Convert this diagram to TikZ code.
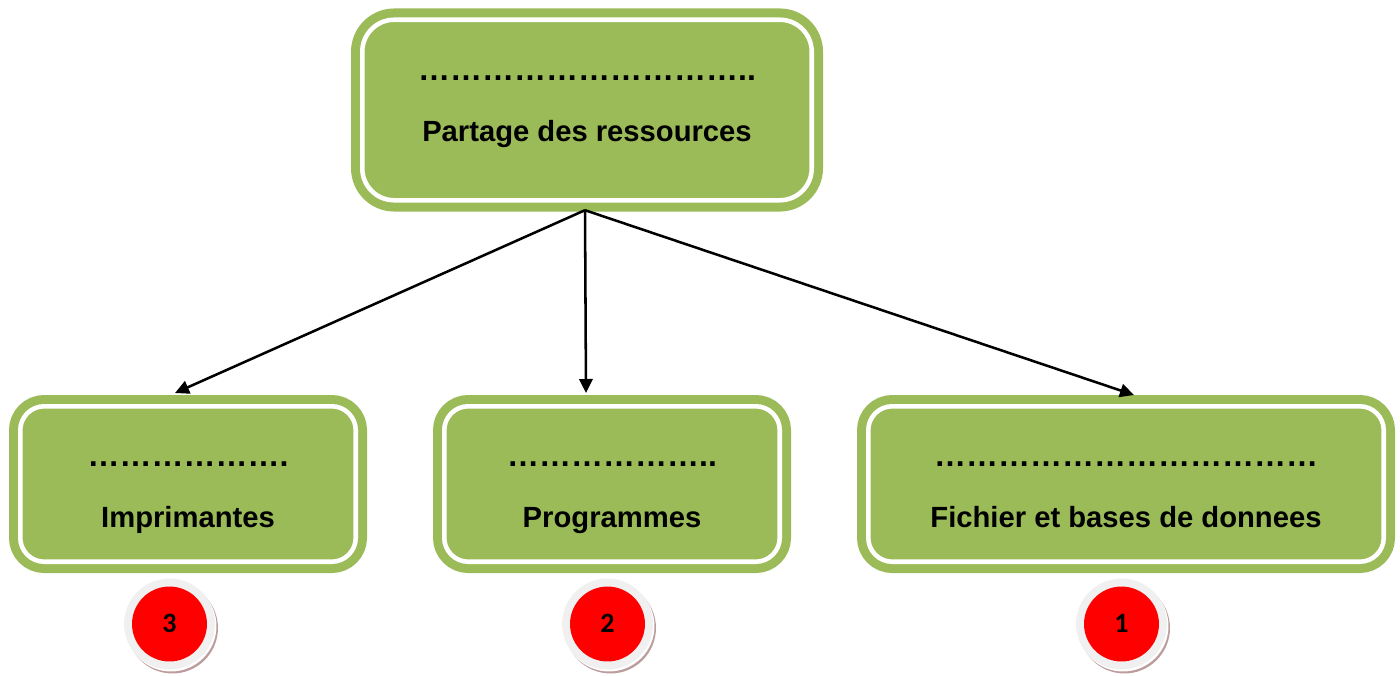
\documentclass[tikz,border=0pt]{standalone}
\usepackage{fontspec}
\setmainfont{Liberation Sans}
\newfontfamily\digitfont{Carlito}
\usetikzlibrary{arrows.meta}
\definecolor{boxgreen}{HTML}{9BBB59}
\definecolor{ringgrey}{HTML}{F0F0F0}
\definecolor{shadowrose}{HTML}{BC9C9C}
\newcommand{\ee}{…}
\newcommand{\sixee}{\ee\ee\ee\ee\ee\ee}
% text set on a fixed two-line grid: #1 strut height, #2 strut depth, #3 dots, #4 label
\newcommand{\twolines}[4]{\rule{0pt}{#1}{\fontsize{24}{45.75}\selectfont #3}\\#4\rule[-#2]{0pt}{#2}}
\tikzset{
  x=0.75pt,y=-0.75pt,
  greenbox/.style={rectangle,draw=boxgreen,fill=boxgreen,line width=6.75pt,double=white,double distance=3.4pt,
    inner sep=0pt,outer sep=8.45pt,align=center,font=\bfseries\fontsize{21.9}{45.75}\selectfont,text=black},
  smallbox/.style={greenbox,rounded corners=18pt,minimum height=116.6pt},
  bigbox/.style={greenbox,rounded corners=24pt,minimum height=135.4pt},
  link/.style={-{Triangle[length=10.5pt,width=10pt]},line width=1.9pt,black},
  badgeshadow/.style={circle,fill=shadowrose,minimum size=68.2pt,inner sep=0pt},
  badgegap/.style={circle,fill=white,minimum size=68.2pt,inner sep=0pt},
  badgering/.style={circle,fill=ringgrey,minimum size=68.2pt,inner sep=0pt},
  badge/.style={circle,fill=red,minimum size=56.2pt,inner sep=0pt,font=\digitfont\bfseries\fontsize{21}{24}\selectfont,text=black},
}
\begin{document}
\begin{tikzpicture}
\useasboundingbox (0,0) rectangle (1400,675);
\node[bigbox,minimum width=337.1pt] (top) at (587,110) {\twolines{22pt}{20pt}{\sixee\ee\ee\ee\ee..}{Partage des ressources}};
\node[smallbox,minimum width=251.6pt] (imp) at (188,484) {\twolines{30pt}{11.25pt}{\sixee.}{Imprimantes}};
\node[smallbox,minimum width=251.6pt] (prog) at (612,484) {\twolines{30pt}{11.25pt}{\sixee..}{Programmes}};
\node[smallbox,minimum width=386.6pt] (fich) at (1126,484) {\twolines{30pt}{11.25pt}{\sixee\sixee}{Fichier et bases de donnees}};
\draw[link] ([xshift=-1.5pt,yshift=1pt]top.south) -- ([xshift=-9.75pt,yshift=1.5pt]imp.north);
\draw[link] ([xshift=-1.5pt,yshift=1pt]top.south) -- ([xshift=-19.5pt,yshift=1.5pt]prog.north);
\draw[link] ([xshift=-1.5pt,yshift=1pt]top.south) -- ([xshift=6pt]fich.north);
\foreach \n/\cx/\lab in {a/169.5/3,b/607.5/2,c/1121.5/1}{
  \node[badgeshadow] (s\n) at (\cx+3,628) {};
  \node[badgegap] (g\n) at (\cx+1.5,626) {};
  \node[badgering] (r\n) at (\cx,624) {};
  \node[badge] (n\n) at (\cx,624) {\raisebox{1.2pt}{\lab}};
}
\end{tikzpicture}
\end{document}
